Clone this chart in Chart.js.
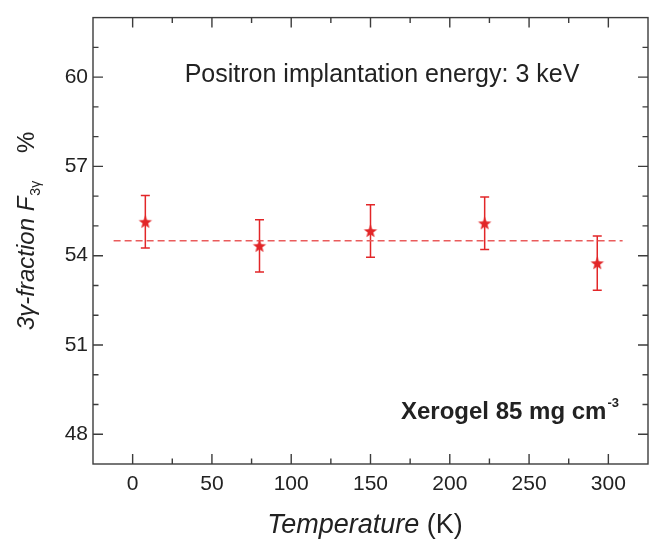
<!DOCTYPE html>
<html><head><meta charset="utf-8">
<script src="https://cdn.jsdelivr.net/npm/chart.js@4"></script>
<style>html,body{margin:0;padding:0;background:#fff}#wrap{width:657px;height:540px}</style>
</head><body><div id="wrap"><canvas id="c" width="657" height="540"></canvas></div>
<script>
// ---- data ----
const temperatures = [8, 80, 150, 222, 293];
const fractions = [55.14, 54.33, 54.83, 55.09, 53.75];
const errors = [0.88, 0.88, 0.88, 0.88, 0.91];
const meanValue = 54.5;
const meanRange = [-12, 309];
const xTicks = [0, 50, 100, 150, 200, 250, 300];
const yTicks = [48, 51, 54, 57, 60];
const xMinorTicks = [25, 75, 125, 175, 225, 275];
const yMinorTicks = [49, 50, 52, 53, 55, 56, 58, 59, 61];

const FONT = "'Liberation Sans', Arial, Helvetica, sans-serif";
const RED = 'rgb(226,38,40)';
const DASH_RED = 'rgb(234,92,92)';
const AXIS = '#3c3c3c';
const TEXT = '#222';

const starImg = (() => {
  const c = document.createElement('canvas'); c.width = 16; c.height = 16;
  const g = c.getContext('2d'); g.fillStyle = RED; g.beginPath();
  for (let i = 0; i < 10; i++) {
    const r = i % 2 ? 3.0 : 7.0;
    const a = -Math.PI / 2 + i * Math.PI / 5;
    const px = 8 + r * Math.cos(a), py = 8.6 + r * Math.sin(a);
    if (i) g.lineTo(px, py); else g.moveTo(px, py);
  }
  g.closePath(); g.fill();
  return c;
})();

const framePlugin = {
  id: 'frame',
  beforeDatasetsDraw(chart) {
    const {ctx, scales: {x, y}} = chart;
    ctx.save();
    ctx.strokeStyle = RED; ctx.lineWidth = 1.5;
    temperatures.forEach((t, i) => {
      const px = x.getPixelForValue(t);
      const top = y.getPixelForValue(fractions[i] + errors[i]);
      const bot = y.getPixelForValue(fractions[i] - errors[i]);
      ctx.beginPath();
      ctx.moveTo(px, top); ctx.lineTo(px, bot);
      ctx.moveTo(px - 4.5, top); ctx.lineTo(px + 4.5, top);
      ctx.moveTo(px - 4.5, bot); ctx.lineTo(px + 4.5, bot);
      ctx.stroke();
    });
    ctx.restore();
  },
  afterDraw(chart) {
    const {ctx, chartArea: a, scales: {x, y}} = chart;
    ctx.save();
    ctx.strokeStyle = AXIS; ctx.lineWidth = 1.4;
    ctx.strokeRect(a.left, a.top, a.right - a.left, a.bottom - a.top);
    ctx.beginPath();
    const tickX = (v, len) => {
      const p = x.getPixelForValue(v);
      ctx.moveTo(p, a.bottom); ctx.lineTo(p, a.bottom - len);
      ctx.moveTo(p, a.top); ctx.lineTo(p, a.top + len);
    };
    const tickY = (v, len) => {
      const p = y.getPixelForValue(v);
      ctx.moveTo(a.left, p); ctx.lineTo(a.left + len, p);
      ctx.moveTo(a.right, p); ctx.lineTo(a.right - len, p);
    };
    xTicks.forEach(v => tickX(v, 10));
    xMinorTicks.forEach(v => tickX(v, 5.5));
    yTicks.forEach(v => tickY(v, 10));
    yMinorTicks.forEach(v => tickY(v, 5.5));
    ctx.stroke();

    ctx.fillStyle = TEXT;
    ctx.textBaseline = 'alphabetic';
    // annotation 1
    ctx.font = `25px ${FONT}`;
    ctx.textAlign = 'center';
    ctx.fillText('Positron implantation energy: 3 keV', 382, 82);
    // annotation 2
    ctx.textAlign = 'left';
    ctx.font = `bold 24px ${FONT}`;
    const s2 = 'Xerogel 85 mg cm';
    ctx.fillText(s2, 401, 419);
    const w2 = ctx.measureText(s2).width;
    ctx.font = `bold 13px ${FONT}`;
    ctx.fillText('-3', 401 + w2 + 1, 407);

    // x title
    ctx.font = `italic 27px ${FONT}`;
    const t1 = 'Temperature';
    const wt1 = ctx.measureText(t1).width;
    ctx.font = `27px ${FONT}`;
    const t2 = ' (K)';
    const wt2 = ctx.measureText(t2).width;
    const sx = 365 - (wt1 + wt2) / 2;
    ctx.font = `italic 27px ${FONT}`;
    ctx.fillText(t1, sx, 533);
    ctx.font = `27px ${FONT}`;
    ctx.fillText(t2, sx + wt1, 533);

    // y title
    ctx.translate(34, 330);
    ctx.rotate(-Math.PI / 2);
    ctx.font = `italic 24px ${FONT}`;
    const y1 = '3γ-fraction F';
    ctx.fillText(y1, 0, 0);
    const wy1 = ctx.measureText(y1).width;
    ctx.font = `14px ${FONT}`;
    ctx.fillText('3γ', wy1 + 1, 6);
    ctx.font = `24px ${FONT}`;
    ctx.fillText('%', 177, 0);
    ctx.restore();
  }
};

new Chart(document.getElementById('c'), {
  type: 'scatter',
  data: {
    datasets: [
      {
        data: meanRange.map(t => ({x: t, y: meanValue})),
        showLine: true,
        borderColor: DASH_RED,
        borderDash: [7, 4],
        borderWidth: 1.6,
        pointRadius: 0,
        order: 2
      },
      {
        data: temperatures.map((t, i) => ({x: t, y: fractions[i]})),
        pointStyle: starImg,
        pointRadius: 8,
        order: 1
      }
    ]
  },
  options: {
    responsive: false,
    devicePixelRatio: 1,
    animation: false,
    layout: {padding: {top: 13, right: 4, left: 0, bottom: 0}},
    plugins: {legend: {display: false}, tooltip: {enabled: false}},
    scales: {
      x: {
        type: 'linear', min: -25, max: 325,
        afterBuildTicks: s => { s.ticks = xTicks.map(v => ({value: v})); },
        afterFit: s => { s.height = 76; },
        grid: {display: false, drawTicks: false},
        border: {display: false},
        ticks: {font: {family: FONT, size: 21}, color: TEXT, padding: 8}
      },
      y: {
        type: 'linear', min: 47, max: 62,
        afterBuildTicks: s => { s.ticks = yTicks.map(v => ({value: v})); },
        afterFit: s => { s.width = 93; },
        grid: {display: false, drawTicks: false},
        border: {display: false},
        ticks: {font: {family: FONT, size: 21}, color: TEXT, padding: 5}
      }
    }
  },
  plugins: [framePlugin]
});
</script>
</body></html>
